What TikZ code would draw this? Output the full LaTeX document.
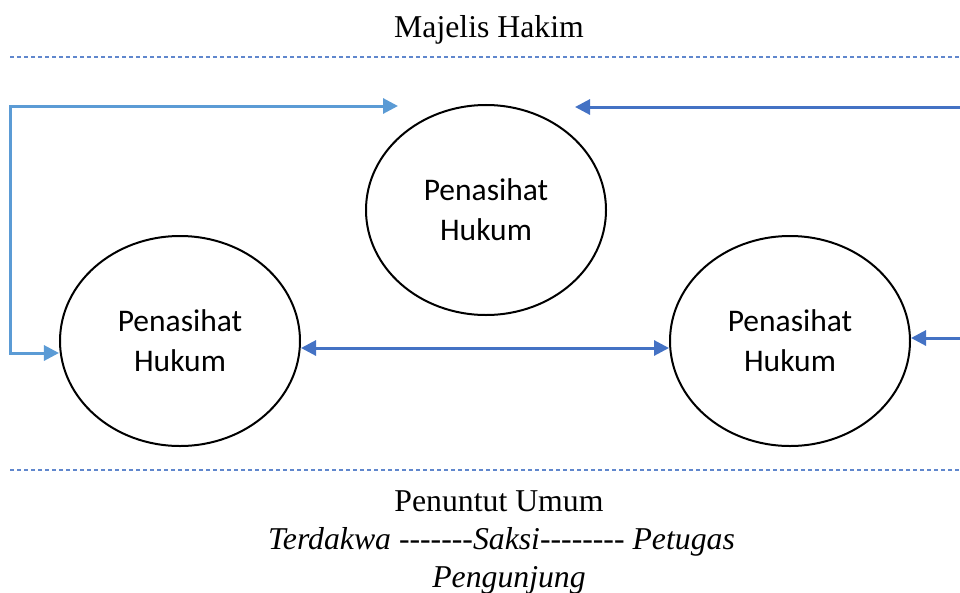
\documentclass[tikz,border=0pt]{standalone}
\usepackage{fontspec}
\setmainfont{Liberation Serif}
\newfontfamily\calibri{Carlito}
\usetikzlibrary{arrows.meta, shapes.geometric}
\definecolor{lightblue}{HTML}{5B9BD5}
\definecolor{darkblue}{HTML}{4472C4}
% tanda hubung tunggal, tanpa ligatur -- / ---
\newcommand{\hy}{-\kern0pt}
\begin{document}
\begin{tikzpicture}[x=0.4pt, y=-0.4pt,
  party/.style={ellipse, draw=black, line width=0.8pt, minimum width=96pt,
    minimum height=84pt, inner sep=0pt, align=center,
    font=\calibri\fontsize{12.6}{16}\selectfont},
  sep/.style={darkblue!85, line width=0.45pt, dash pattern=on 1.6pt off 1.2pt},
  link/.style={line width=1.2pt, -{Triangle[length=6pt, width=6pt]}},
  both/.style={line width=1.2pt,
    {Triangle[length=6pt, width=6pt]}-{Triangle[length=6pt, width=6pt]}},
  label/.style={font=\fontsize{12.7}{15.2}\selectfont, align=center}]
\useasboundingbox (0,0) rectangle (960,593);

% ---------- ruang sidang: hakim di atas, penuntut dan pengunjung di bawah
\node[label] (hakim) at (489,30) {Majelis Hakim};
\draw[sep] (10,57) -- (960,57);
\draw[sep] (10,470) -- (960,470);
\node[label] (umum) at (499,542) {Penuntut Umum\\
  \hspace*{2pt}\textit{Terdakwa \hy\hy\hy\hy\hy\hy\hy Saksi\hy\hy\hy\hy\hy\hy\hy\hy\ Petugas}\\
  \hspace*{8pt}\textit{Pengunjung}};

% ---------- tiga penasihat hukum
\node[party] (top)   at (486,210) {Penasihat\\Hukum};
\node[party] (left)  at (180,341) {Penasihat\\Hukum};
\node[party] (right) at (790,341) {Penasihat\\Hukum};

% titik ujung bebas panah
\coordinate (lt) at (10,106);
\coordinate (lb) at (10,353);
\coordinate (lend) at (398,106);
\coordinate (rt) at (962,107);
\coordinate (rend) at (575,107);
\coordinate (rm) at (962,338);

\draw[both, lightblue] (lend) -- (lt) -- (lb) -- (lb -| left.west);
\draw[link, darkblue] (rt) -- (rend);
\draw[link, darkblue] (rm) -- (rm -| right.east);
\draw[both, darkblue] (left.east |- 0,348) -- (right.west |- 0,348);
\end{tikzpicture}
\end{document}
